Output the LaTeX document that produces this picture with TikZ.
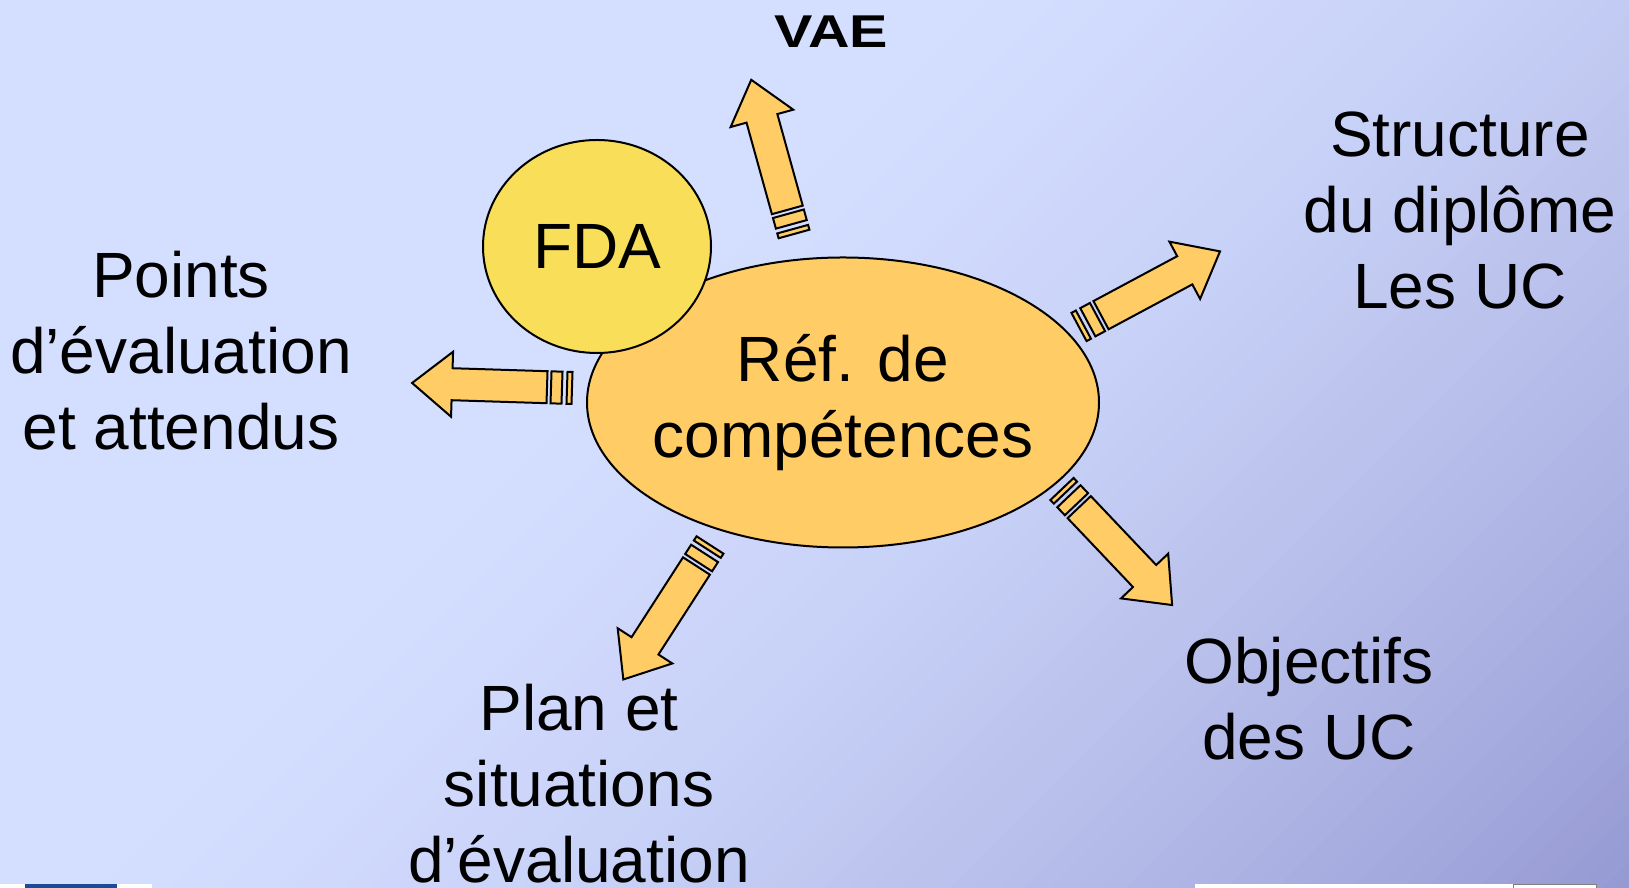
\documentclass[tikz,border=0pt]{standalone}
\usepackage{fontspec}
\setmainfont{Liberation Sans}
\usetikzlibrary{shapes.geometric}
\definecolor{bglight}{RGB}{212,222,255}
\definecolor{bgdark}{RGB}{148,152,210}
\definecolor{refcol}{RGB}{255,204,102}
\definecolor{fdacol}{RGB}{249,222,89}
\definecolor{logoblue}{RGB}{26,75,150}
\tikzset{
  lbl/.style={font=\fontsize{32}{38}\selectfont,align=center,inner sep=0pt},
  blob/.style={ellipse,draw,line width=1pt,inner sep=0pt},
  barrow/.style={draw,fill=refcol,line width=1pt,line join=miter},
  stripedarrow/.pic={
    \path[barrow] (0,-16) rectangle (5,16);
    \path[barrow] (10,-16) rectangle (21,16);
    \path[barrow] (25,-16) -- (120,-16) -- (120,-32.5) -- (160,0) -- (120,32.5) -- (120,16) -- (25,16) -- cycle;
  }
}
\begin{document}
\begin{tikzpicture}[x=0.5pt,y=0.5pt]
  \useasboundingbox (0,0) rectangle (1629,888);
  \begin{scope}
    \clip (0,0) rectangle (1629,888);
    \fill[bglight] (0,0) rectangle (1629,888);
    \foreach \i in {36,...,100}{
      \pgfmathsetmacro{\pct}{100*pow((\i-35)/65,1.6)}
      \pgfmathsetmacro{\d}{25.17*\i}
      \fill[bgdark!\pct!bglight] (\d-1088,-200) -- (\d+212,1100) -- (3000,1100) -- (3000,-200) -- cycle;
    }
  \end{scope}
  \fill[white] (0,0) rectangle (152,4);
  \fill[logoblue] (25,0) rectangle (117,4);
  \fill[white] (1195,0) rectangle (1596,4);
  \draw[gray] (1513,0) -- (1513,4) -- (1596,4) -- (1596,0);

  \node[blob,fill=refcol,minimum width=256pt,minimum height=145pt] (ref) at (843,485.5) {};
  \node[lbl] (refl) at (ref.center) {Réf. de\\compétences};
  \node[blob,fill=fdacol,minimum width=114pt,minimum height=106.5pt] (fda) at (597,641.5) {};
  \node[lbl] (fdal) at (fda.center) {FDA};

  \pic[rotate=178.2] at (572,500) {stripedarrow};
  \pic[rotate=105.5] at (794,654) {stripedarrow};
  \pic[rotate=28.2] at (1079,561) {stripedarrow};
  \pic[rotate=237.2] at (710,343) {stripedarrow};
  \pic[rotate=-46.5] at (1062,399) {stripedarrow};

  \node[font=\bfseries\fontsize{23}{28}\selectfont,anchor=base] (vae) at (831,840) {\scalebox{1.25}[1]{VAE}};
  \node[lbl,anchor=base] (struct) at (1460,579.5) {Structure\\du diplôme\\Les UC};
  \node[lbl,anchor=base] (points) at (181,438) {Points\\d’évaluation\\et attendus};
  \node[lbl,anchor=base] (plan) at (579,5) {Plan et\\situations\\d’évaluation};
  \node[lbl,anchor=base] (obj) at (1309,128.5) {Objectifs\\des UC};
\end{tikzpicture}
\end{document}
